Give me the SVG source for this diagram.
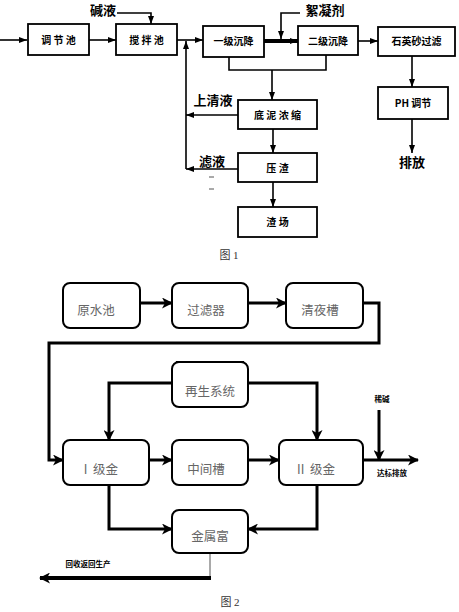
<svg xmlns="http://www.w3.org/2000/svg" width="459" height="612" viewBox="0 0 459 612">
<defs>
<marker id="a1" markerUnits="userSpaceOnUse" markerWidth="8" markerHeight="6" refX="8" refY="3" orient="auto"><path d="M0,0 L8,3 L0,6 z" fill="#000"/></marker>
<marker id="a2" markerUnits="userSpaceOnUse" markerWidth="11" markerHeight="11" refX="10" refY="5.5" orient="auto"><path d="M0,0 L11,5.5 L0,11 L3,5.5 z" fill="#000"/></marker>
<style>
.b1{fill:#fff;stroke:#000;stroke-width:1.8}
.b2{fill:#fff;stroke:#000;stroke-width:2}
.t1{font-family:"Noto Sans CJK SC","Liberation Sans",sans-serif;font-size:10px;font-weight:bold;text-anchor:middle;fill:#000}
.lab{font-family:"Noto Sans CJK SC","Liberation Serif",serif;font-size:13px;font-weight:bold;text-anchor:middle;fill:#000}
.t2{font-family:"Noto Sans CJK SC","Liberation Sans",sans-serif;font-size:12.5px;text-anchor:middle;fill:#666;white-space:pre}
.sm{font-family:"Noto Sans CJK SC","Liberation Sans",sans-serif;font-size:7.5px;font-weight:bold;text-anchor:middle;fill:#000}
.cap{font-family:"Liberation Serif","Noto Sans CJK SC",serif;font-size:11px;text-anchor:middle;fill:#333}
.c1{fill:none;stroke:#000;stroke-width:1.6}
.c2{fill:none;stroke:#000;stroke-width:3}
.c3{fill:none;stroke:#000;stroke-width:4}
</style>
</defs>
<g id="connectors">
<line class="c1" x1="0" y1="40" x2="27" y2="40" marker-end="url(#a1)"/>
<line class="c1" x1="89" y1="40" x2="116" y2="40" marker-end="url(#a1)"/>
<polyline class="c1" points="117,13 151,13 151,24" marker-end="url(#a1)"/>
<line class="c1" x1="177" y1="40" x2="203" y2="40" marker-end="url(#a1)"/>
<line class="c3" x1="264" y1="41" x2="298" y2="41" marker-end="url(#a1)"/>
<polyline class="c1" points="300,13 281,13 281,39" marker-end="url(#a1)"/>
<line class="c1" x1="358" y1="41" x2="378" y2="41" marker-end="url(#a1)"/>
<polyline class="c1" points="229,57 229,70 326,70 326,55"/>
<line class="c1" x1="272" y1="70" x2="272" y2="100" marker-end="url(#a1)"/>
<line class="c1" x1="412" y1="56" x2="412" y2="87" marker-end="url(#a1)"/>
<line class="c1" x1="412" y1="119" x2="412" y2="153" marker-end="url(#a1)"/>
<line class="c1" x1="238" y1="115" x2="186" y2="115" marker-end="url(#a1)"/>
<line class="c1" x1="238" y1="169" x2="186" y2="169" marker-end="url(#a1)"/>
<polyline class="c1" points="186,169 186,41" marker-end="url(#a1)"/>
<line class="c1" x1="273" y1="129" x2="273" y2="153" marker-end="url(#a1)"/>
<line class="c1" x1="273" y1="182" x2="273" y2="207" marker-end="url(#a1)"/>
<line x1="209" y1="177" x2="214" y2="177" stroke="#555" stroke-width="1"/>
<line x1="209" y1="189" x2="214" y2="189" stroke="#555" stroke-width="1"/>
<line class="c2" x1="140" y1="303" x2="172" y2="303" marker-end="url(#a2)"/>
<line class="c2" x1="248" y1="303" x2="286" y2="303" marker-end="url(#a2)"/>
<polyline class="c2" points="363,303 379,303 379,343 49,343 49,460 63,460" marker-end="url(#a2)"/>
<polyline class="c2" points="172,383 109,383 109,440" marker-end="url(#a2)"/>
<polyline class="c2" points="248,383 317,383 317,440" marker-end="url(#a2)"/>
<line class="c2" x1="149" y1="460" x2="172" y2="460" marker-end="url(#a2)"/>
<line class="c2" x1="248" y1="460" x2="279" y2="460" marker-end="url(#a2)"/>
<line class="c2" x1="363" y1="460" x2="418" y2="460" marker-end="url(#a2)"/>
<line class="c2" x1="379" y1="410" x2="379" y2="460" marker-end="url(#a2)"/>
<polyline class="c2" points="109,485 109,529 172,529" marker-end="url(#a2)"/>
<polyline class="c2" points="317,485 317,529 248,529" marker-end="url(#a2)"/>
<line x1="210" y1="553" x2="210" y2="578" stroke="#555" stroke-width="1"/>
<line class="c3" x1="211" y1="578" x2="40" y2="578" marker-end="url(#a2)"/>
</g>
<g id="n-tiaojiechi"><rect class="b1" x="28" y="24" width="61" height="31"/><text class="t1" x="58.5" y="43.5">调 节 池</text></g>
<g id="n-jiaobanchi"><rect class="b1" x="116" y="24" width="61" height="31"/><text class="t1" x="146.5" y="43.5">搅 拌 池</text></g>
<g id="n-yiji"><rect class="b1" x="203" y="26" width="61" height="31"/><text class="t1" x="233.5" y="45">一级沉降</text></g>
<g id="n-erji"><rect class="b1" x="298" y="26" width="60" height="29"/><text class="t1" x="328" y="44.5">二级沉降</text></g>
<g id="n-shiying"><rect class="b1" x="378" y="27" width="77" height="29"/><text class="t1" x="416.5" y="45">石英砂过滤</text></g>
<g id="n-ph"><rect class="b1" x="378" y="87" width="70" height="32"/><text class="t1" x="413" y="106.5">PH 调节</text></g>
<g id="n-dini"><rect class="b1" x="238" y="100" width="79" height="29"/><text class="t1" x="277.5" y="118.5">底 泥 浓 缩</text></g>
<g id="n-yazha"><rect class="b1" x="238" y="153" width="79" height="29"/><text class="t1" x="277.5" y="171.5">压 渣</text></g>
<g id="n-zhachang"><rect class="b1" x="238" y="207" width="79" height="30"/><text class="t1" x="277.5" y="226">渣 场</text></g>
<g id="labels1">
<text class="lab" x="103" y="15">碱液</text>
<text class="lab" x="325" y="15">絮凝剂</text>
<text class="lab" x="213" y="105">上清液</text>
<text class="lab" x="212" y="166">滤液</text>
<text class="lab" x="412" y="167">排放</text>
<text class="cap" x="229" y="259">图 1</text>
</g>
<g id="n-yuanshui"><rect class="b2" x="63" y="283" width="77" height="45" rx="7"/><text class="t2" x="96" y="315">原水池</text></g>
<g id="n-guolvqi"><rect class="b2" x="172" y="283" width="76" height="45" rx="7"/><text class="t2" x="206" y="315">过滤器</text></g>
<g id="n-qingye"><rect class="b2" x="286" y="283" width="77" height="45" rx="7"/><text class="t2" x="320" y="315">清夜槽</text></g>
<g id="n-zaisheng"><rect class="b2" x="172" y="362" width="76" height="45" rx="7"/><rect x="176" y="361" width="68" height="2" fill="#000"/><text class="t2" x="210" y="396">再生系统</text></g>
<g id="n-ijijin"><rect class="b2" x="63" y="440" width="86" height="45" rx="7"/><text class="t2" x="101" y="474">I  级金</text></g>
<g id="n-zhongjian"><rect class="b2" x="172" y="440" width="76" height="45" rx="7"/><text class="t2" x="206" y="474">中间槽</text></g>
<g id="n-iijijin"><rect class="b2" x="279" y="440" width="84" height="45" rx="7"/><text class="t2" x="316" y="474">II  级金</text></g>
<g id="n-jinshufu"><rect class="b2" x="172" y="510" width="76" height="43" rx="7"/><text class="t2" x="210" y="541">金属富</text></g>
<g id="labels2">
<text class="sm" x="382" y="402">稀碱</text>
<text class="sm" x="392" y="476">达标排放</text>
<text class="sm" x="88" y="567">回收返回生产</text>
<text class="cap" x="230" y="606">图 2</text>
</g>
</svg>
